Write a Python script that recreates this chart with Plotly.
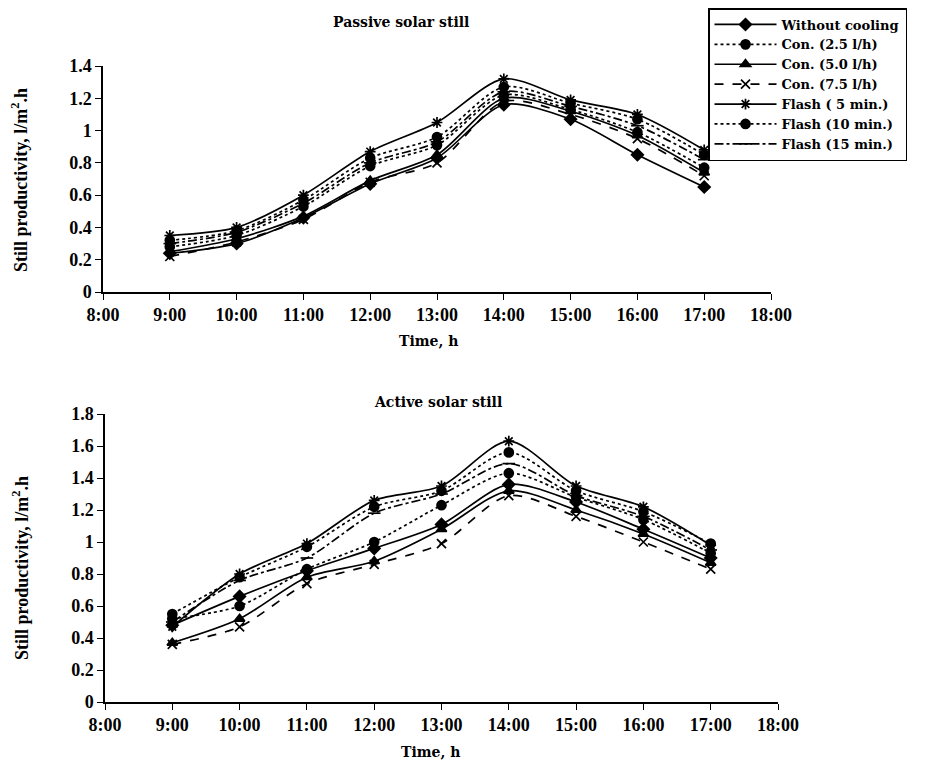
import plotly.graph_objects as go

hours = [9, 10, 11, 12, 13, 14, 15, 16, 17]
tick_hours = [8, 9, 10, 11, 12, 13, 14, 15, 16, 17, 18]
tick_labels = ["8:00", "9:00", "10:00", "11:00", "12:00", "13:00", "14:00",
               "15:00", "16:00", "17:00", "18:00"]

series_names = ["Without cooling", "Con. (2.5 l/h)", "Con. (5.0 l/h)", "Con. (7.5 l/h)",
                "Flash ( 5 min.)", "Flash (10 min.)", "Flash (15 min.)"]

# Passive solar still (l/m2.h)
passive_without = [0.24, 0.30, 0.46, 0.67, 0.83, 1.16, 1.07, 0.85, 0.65]
passive_con25 = [0.28, 0.35, 0.53, 0.78, 0.91, 1.22, 1.13, 0.99, 0.77]
passive_con50 = [0.25, 0.33, 0.47, 0.69, 0.85, 1.20, 1.12, 0.97, 0.74]
passive_con75 = [0.22, 0.31, 0.45, 0.68, 0.80, 1.18, 1.10, 0.95, 0.72]
passive_flash5 = [0.35, 0.40, 0.60, 0.87, 1.05, 1.32, 1.19, 1.10, 0.88]
passive_flash10 = [0.32, 0.38, 0.57, 0.83, 0.96, 1.27, 1.17, 1.07, 0.85]
passive_flash15 = [0.30, 0.37, 0.55, 0.80, 0.93, 1.24, 1.15, 1.03, 0.82]

# Active solar still (l/m2.h)
active_without = [0.48, 0.66, 0.82, 0.96, 1.11, 1.36, 1.25, 1.08, 0.90]
active_con25 = [0.52, 0.60, 0.83, 1.00, 1.23, 1.43, 1.28, 1.14, 0.93]
active_con50 = [0.37, 0.52, 0.78, 0.88, 1.08, 1.32, 1.20, 1.05, 0.87]
active_con75 = [0.36, 0.47, 0.74, 0.86, 0.99, 1.29, 1.16, 1.00, 0.83]
active_flash5 = [0.47, 0.80, 0.99, 1.26, 1.35, 1.63, 1.35, 1.22, 0.98]
active_flash10 = [0.55, 0.78, 0.97, 1.22, 1.32, 1.56, 1.32, 1.19, 0.99]
active_flash15 = [0.50, 0.76, 0.90, 1.18, 1.30, 1.49, 1.29, 1.16, 0.95]

passive = [passive_without, passive_con25, passive_con50, passive_con75,
           passive_flash5, passive_flash10, passive_flash15]
active = [active_without, active_con25, active_con50, active_con75,
          active_flash5, active_flash10, active_flash15]

dashes = ["solid", "dot", "solid", "dash", "solid", "dot", "dashdot"]
symbols = ["diamond", "circle", "triangle-up", "x-thin-open", "asterisk-open",
           "circle", "line-ew-open"]

W, H, OFF = 926, 764, 8  # page body margin offset


def fx(px):
    return (px - OFF) / W


def fy(py):
    return 1 - (py - OFF) / H


TFONT = "Liberation Serif"
WFONT = "DejaVu Serif"
fig = go.Figure()

for i, name in enumerate(series_names):
    for data, xa, ya, show in [(passive, "x", "y", True), (active, "x2", "y2", False)]:
        fig.add_trace(go.Scatter(
            x=hours, y=data[i], name=name, xaxis=xa, yaxis=ya,
            mode="lines+markers", showlegend=show,
            line=dict(color="black", width=1.7, dash=dashes[i], shape="spline", smoothing=0.8),
            marker=dict(symbol=symbols[i], size=9, color="black",
                        line=dict(color="black", width=1.7)),
        ))

axis_common = dict(showline=True, linecolor="black", linewidth=1.5, ticks="outside",
                   ticklen=6, tickcolor="black", showgrid=False, zeroline=False,
                   automargin=False,
                   tickfont=dict(family=TFONT, size=18, color="black", weight="bold"))

fig.update_layout(
    width=W, height=H,
    margin=dict(l=0, r=0, t=0, b=0, autoexpand=False),
    paper_bgcolor="white", plot_bgcolor="white",
    font=dict(family=TFONT, color="black"),
    xaxis=dict(domain=[fx(103), fx(771)], range=[8, 18], tickvals=tick_hours,
               ticktext=tick_labels, anchor="y", **axis_common),
    yaxis=dict(domain=[fy(292), fy(66)], range=[0, 1.4], dtick=0.2, anchor="x",
               **axis_common),
    xaxis2=dict(domain=[fx(105), fx(778)], range=[8, 18], tickvals=tick_hours,
                ticktext=tick_labels, anchor="y2", **axis_common),
    yaxis2=dict(domain=[fy(702), fy(414)], range=[0, 1.8], dtick=0.2, anchor="x2",
                **axis_common),
    legend=dict(x=fx(708), y=1.0, xanchor="left", yanchor="top",
                bordercolor="black", borderwidth=1.5, bgcolor="white",
                font=dict(family=WFONT, size=13, color="black", weight="bold"),
                tracegroupgap=0, itemwidth=62),
)

ann = [
    dict(text="<b>Passive solar still</b>", x=401, y=22, size=14),
    dict(text="<b>Time, h</b>", x=428, y=341, size=14),
    dict(text="<b>Active solar still</b>", x=438, y=402, size=14),
    dict(text="<b>Time, h</b>", x=430, y=752, size=14),
]
for a in ann:
    fig.add_annotation(text=a["text"], x=fx(a["x"]), y=fy(a["y"]), xref="paper", yref="paper",
                       xanchor="center", yanchor="middle", showarrow=False,
                       font=dict(family=WFONT, size=a["size"], color="black"))

for yc in [180, 568]:
    fig.add_annotation(text="<b>Still productivity, l/m<sup>2</sup>.h</b>", x=fx(20), y=fy(yc),
                       xref="paper", yref="paper", xanchor="center", yanchor="middle",
                       showarrow=False, textangle=-90,
                       font=dict(family=TFONT, size=18, color="black"))

fig.write_html("out.html")
